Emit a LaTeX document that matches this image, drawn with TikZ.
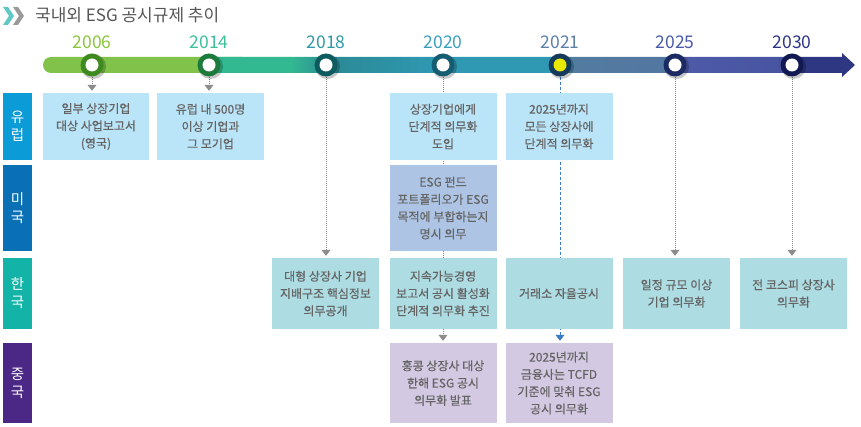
\documentclass[tikz,border=0pt]{standalone}
\usepackage{fontspec}
\setmainfont{Noto Sans CJK KR}
\newfontfamily\boxfont{Noto Sans CJK KR}[FakeBold=0.4]
\usetikzlibrary{arrows.meta}
\pgfdeclarelayer{bg}
\pgfsetlayers{bg,main}
\definecolor{txt}{HTML}{646464}
\definecolor{ttl}{HTML}{555555}
\definecolor{cEU}{HTML}{0B9BD7}
\definecolor{cUS}{HTML}{0A70B6}
\definecolor{cKR}{HTML}{14B3A7}
\definecolor{cCN}{HTML}{4B2885}
\definecolor{bEU}{HTML}{BAE4F7}
\definecolor{bUS}{HTML}{ADC4E4}
\definecolor{bKR}{HTML}{ADDCE2}
\definecolor{bCN}{HTML}{D4C9E2}
\definecolor{lgray}{HTML}{8C8C8C}
\definecolor{lblue}{HTML}{3B7DC4}
\definecolor{yA}{HTML}{8CC63F}
\definecolor{yB}{HTML}{3CBF9A}
\definecolor{yC}{HTML}{2E9AA8}
\definecolor{yD}{HTML}{3AA0C0}
\definecolor{yE}{HTML}{5A7FA8}
\definecolor{yF}{HTML}{4A5AA8}
\definecolor{yG}{HTML}{2E3585}
\definecolor{rA}{HTML}{3F8A1E}
\definecolor{rB}{HTML}{1C7B3C}
\definecolor{rC}{HTML}{0D5B5E}
\definecolor{rD}{HTML}{145C72}
\definecolor{rE}{HTML}{163A5C}
\definecolor{rF}{HTML}{1B2A63}
\definecolor{rG}{HTML}{121852}
\definecolor{sA}{HTML}{80C24A}
\definecolor{sB}{HTML}{33B991}
\definecolor{sC}{HTML}{2B8A95}
\definecolor{sD}{HTML}{2F99B4}
\definecolor{sE}{HTML}{537BA0}
\definecolor{sF}{HTML}{4E5BA8}
\definecolor{sG}{HTML}{2E3882}
\definecolor{chevA}{HTML}{5FC8C4}
\definecolor{chevB}{HTML}{9A9A9A}
\definecolor{yel}{HTML}{E8E800}
\begin{document}
\begin{tikzpicture}[x=1pt,y=-1pt,
  box/.style={minimum width=107pt, inner sep=0pt, align=center, text=txt,
    font=\boxfont\fontsize{12}{17.3}\selectfont},
  rowlab/.style={minimum width=29pt, inner sep=0pt, align=center, text=white,
    font=\fontsize{14.5}{18}\selectfont},
  year/.style={inner sep=0pt, font=\fontsize{17.5}{17.5}\selectfont},
  dot/.style={circle, minimum size=23pt, inner sep=0pt},
  conn/.style={draw=lgray, line width=0.7pt, dash pattern=on 1pt off 1pt,
    -{Triangle[width=9pt,length=6pt]}, shorten >=2pt},
  bconn/.style={draw=lblue, line width=0.8pt, dash pattern=on 3pt off 2pt,
    -{Triangle[width=9pt,length=6pt]}, shorten >=2pt}]
\useasboundingbox (0,0) rectangle (861,427);

% title
\fill[chevA] (3,7) -- (8,7) -- (14,16) -- (8,25) -- (3,25) -- (9,16) -- cycle;
\fill[chevB] (13,7) -- (18,7) -- (24,16) -- (18,25) -- (13,25) -- (19,16) -- cycle;
\node[anchor=west, inner sep=0pt, text=ttl, font=\fontsize{17}{17}\selectfont] (title) at (35,15.5) {국내외 ESG 공시규제 추이};

% years
\node[year, text=yA] (y2006) at (92,42) {2006};
\node[year, text=yB] (y2014) at (209,42) {2014};
\node[year, text=yC] (y2018) at (326,42) {2018};
\node[year, text=yD] (y2020) at (443,42) {2020};
\node[year, text=yE] (y2021) at (560,42) {2021};
\node[year, text=yF] (y2025) at (675,42) {2025};
\node[year, text=yG] (y2030) at (792,42) {2030};

% timeline bar (background layer)
\begin{pgfonlayer}{bg}
\begin{scope}
\clip[rounded corners=8pt] (43,57) -- (250,57) -- (250,73) -- (43,73) -- cycle;
\fill[sA] (40,50) rectangle (260,80);
\end{scope}
\begin{scope}
\clip (209,57) -- (842,57) -- (842,53) -- (855,65) -- (842,77) -- (842,73) -- (209,73) -- cycle;
\fill[sB] (209,50) rectangle (290.5,80);
\shade[left color=sB, right color=sC] (290,50) rectangle (330.5,80);
\shade[left color=sC, right color=sD] (330,50) rectangle (443.5,80);
\fill[sD] (443,50) rectangle (550.5,80);
\shade[left color=sD, right color=sE] (550,50) rectangle (575.5,80);
\shade[left color=sE, right color=sE!85!sF] (575,50) rectangle (670.5,80);
\shade[left color=sF, right color=sF!80!sG] (670,50) rectangle (785.5,80);
\fill[sG] (785,50) rectangle (860,80);
\end{scope}
\end{pgfonlayer}

% circles
\foreach \x in {92,209,326,443,560,675,792}{
  \fill[black, opacity=0.22] (\x+1.5,66.5) circle (12.5);
}
\node[dot, fill=rA] (t2006) at (92,65) {};
\node[dot, fill=rB] (t2014) at (209,65) {};
\node[dot, fill=rC] (t2018) at (326,65) {};
\node[dot, fill=rD] (t2020) at (443,65) {};
\node[dot, fill=rE] (t2021) at (560,65) {};
\node[dot, fill=rF] (t2025) at (675,65) {};
\node[dot, fill=rG] (t2030) at (792,65) {};
\foreach \n in {t2006,t2014,t2018,t2020,t2025,t2030}{
  \fill[white] (\n) circle (6.5);
}
\fill[yel] (t2021) circle (6.5);

% row labels
\node[rowlab, fill=cEU, minimum height=67pt] (lEU) at (17.5,126.5) {유\\럽};
\node[rowlab, fill=cUS, minimum height=86pt] (lUS) at (17.5,208) {미\\국};
\node[rowlab, fill=cKR, minimum height=71pt] (lKR) at (17.5,293.5) {한\\국};
\node[rowlab, fill=cCN, minimum height=80pt] (lCN) at (17.5,383) {중\\국};

% EU boxes
\node[box, fill=bEU, minimum width=106pt, minimum height=67pt] (e1) at (96,126.5) {일부 상장기업\\대상 사업보고서\\(영국)};
\node[box, fill=bEU, minimum height=67pt] (e2) at (210.5,126.5) {유럽 내 500명\\이상 기업과\\그 모기업};
\node[box, fill=bEU, minimum height=67pt] (e3) at (443,126.5) {상장기업에게\\단계적 의무화\\도입};
\node[box, fill=bEU, minimum height=67pt] (e4) at (559,126.5) {2025년까지\\모든 상장사에\\단계적 의무화};

% US box
\node[box, fill=bUS, minimum height=86pt] (u3) at (443,208) {ESG 펀드\\포트폴리오가 ESG\\목적에 부합하는지\\명시 의무};

% KR boxes
\node[box, fill=bKR, minimum height=71pt] (k2) at (325.5,293.5) {대형 상장사 기업\\지배구조 핵심정보\\의무공개};
\node[box, fill=bKR, minimum height=71pt] (k3) at (443,293.5) {지속가능경영\\보고서 공시 활성화\\단계적 의무화 추진};
\node[box, fill=bKR, minimum height=71pt] (k4) at (559,293.5) {거래소 자율공시};
\node[box, fill=bKR, minimum height=71pt] (k5) at (676.5,293.5) {일정 규모 이상\\기업 의무화};
\node[box, fill=bKR, minimum height=71pt] (k6) at (793.5,293.5) {전 코스피 상장사\\의무화};

% CN boxes
\node[box, fill=bCN, minimum height=80pt] (c3) at (443,383) {홍콩 상장사 대상\\한해 ESG 공시\\의무화 발표};
\node[box, fill=bCN, minimum height=80pt] (c4) at (559,383) {2025년까지\\금융사는 TCFD\\기준에 맞춰 ESG\\공시 의무화};

% connectors
\begin{pgfonlayer}{bg}
\draw[conn] (t2006.south) -- (t2006 |- e1.north);
\draw[conn] (t2014.south) -- (t2014 |- e2.north);
\draw[conn] (t2018.south) -- (t2018 |- k2.north);
\draw[conn] (t2020.south) -- (t2020 |- c3.north);
\draw[bconn] (t2021.south) -- (t2021 |- c4.north);
\draw[conn] (t2025.south) -- (t2025 |- k5.north);
\draw[conn] (t2030.south) -- (t2030 |- k6.north);
\end{pgfonlayer}
\end{tikzpicture}
\end{document}
